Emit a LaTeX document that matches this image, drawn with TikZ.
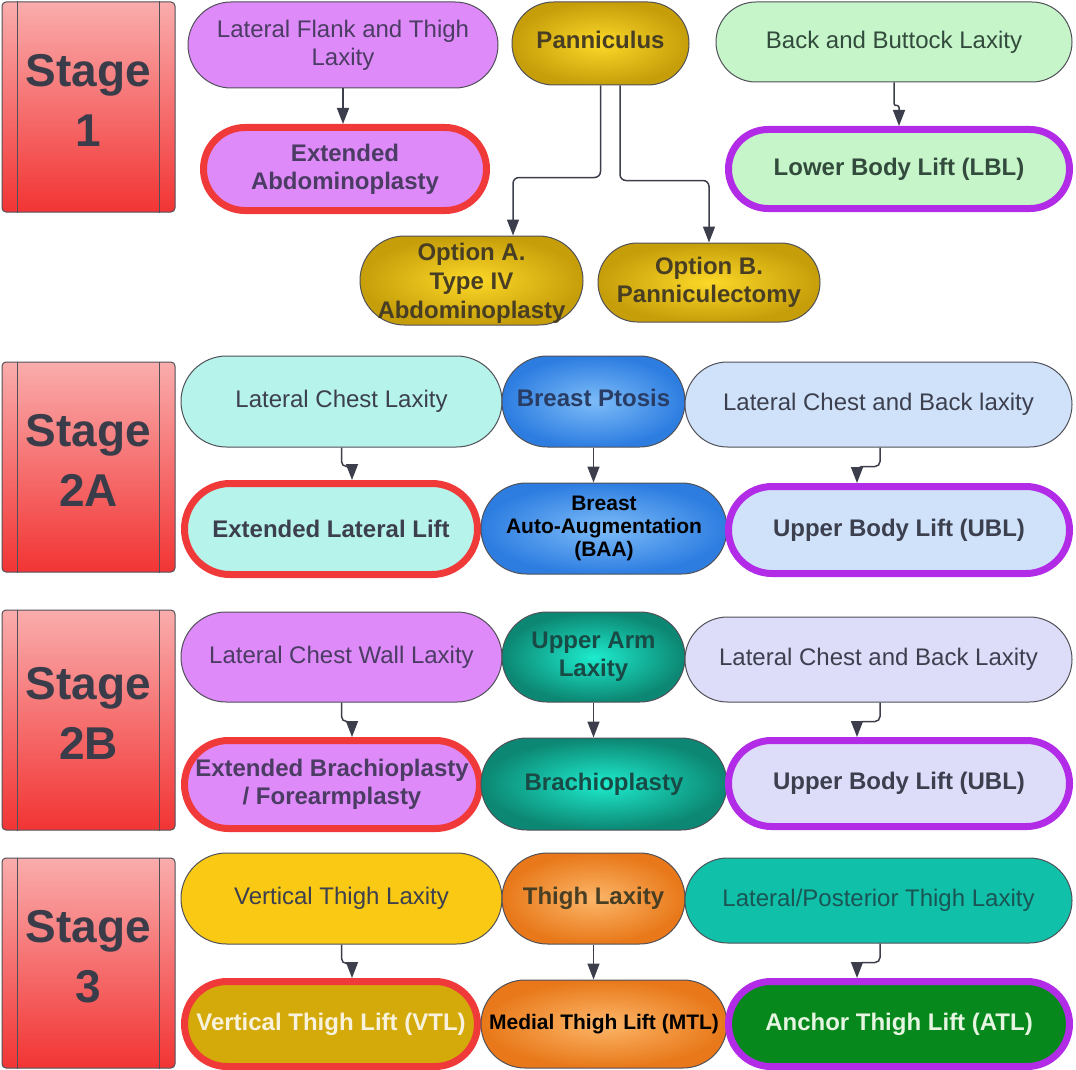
\documentclass[tikz,border=0pt]{standalone}
\usepackage{fontspec}
\setmainfont{Liberation Sans}
\usetikzlibrary{arrows.meta,shadings}
\definecolor{txt}{RGB}{60,63,78}
\definecolor{edge}{RGB}{80,80,88}
\definecolor{arrowc}{RGB}{60,63,75}
\definecolor{redb}{RGB}{240,58,58}
\definecolor{purb}{RGB}{178,44,232}
\definecolor{violet1}{RGB}{222,138,248}
\definecolor{goldin}{RGB}{252,216,40}
\definecolor{goldout}{RGB}{198,158,10}
\definecolor{mint}{RGB}{198,245,202}
\definecolor{cyanl}{RGB}{182,243,234}
\definecolor{bluein}{RGB}{125,188,248}
\definecolor{blueout}{RGB}{45,125,225}
\definecolor{bluel}{RGB}{207,226,250}
\definecolor{lav}{RGB}{221,221,249}
\definecolor{tealin}{RGB}{30,235,205}
\definecolor{tealout}{RGB}{12,135,115}
\definecolor{yel}{RGB}{249,201,20}
\definecolor{dgold}{RGB}{212,170,10}
\definecolor{orin}{RGB}{252,182,105}
\definecolor{orout}{RGB}{232,120,25}
\definecolor{teal2}{RGB}{16,192,168}
\definecolor{dgreen}{RGB}{6,136,28}
\definecolor{stagetop}{RGB}{250,172,172}
\definecolor{stagebot}{RGB}{242,52,52}
\definecolor{stagetxt}{RGB}{58,60,74}
\definecolor{purtxt}{RGB}{75,60,100}
\definecolor{goldtxt}{RGB}{72,62,35}
\definecolor{greentxt}{RGB}{50,75,60}
\definecolor{navytxt}{RGB}{40,60,100}
\definecolor{tealtxt}{RGB}{25,75,70}
\definecolor{teal2txt}{RGB}{25,85,85}
\definecolor{lighttxt}{RGB}{248,242,220}
\definecolor{lightgtxt}{RGB}{230,245,225}
\tikzset{
  pill/.style n args={2}{draw=edge, line width=1pt, align=center, inner sep=0pt,
    minimum width=#1pt, minimum height=#2pt, rounded corners=#2*0.5pt,
    text=txt, font=\fontsize{24}{28}\selectfont},
  boldt/.style={font=\fontsize{24}{28}\selectfont\bfseries},
  redring/.style={draw=redb, line width=7pt},
  purring/.style={draw=purb, line width=7pt},
  radial/.style n args={2}{shade, shading=radial, inner color=#1, outer color=#2},
  stagebox/.style={draw=edge, line width=1pt, rounded corners=4pt, top color=stagetop,
    bottom color=stagebot, minimum width=173pt, align=center, text=stagetxt,
    font=\fontsize{46}{60}\selectfont\bfseries, text depth=13pt},
  stageline/.style={draw=edge, line width=1pt},
  arr/.style={draw=arrowc, line width=1.5pt, -{Triangle[length=16pt,width=12pt]}},
}
\begin{document}
\begin{tikzpicture}[x=1pt,y=-1pt]
\useasboundingbox (0,0) rectangle (1076,1070);
% ---------- stage boxes ----------
\node[stagebox, minimum height=210pt] (s1) at (88.5,107) {Stage\\1};
\node[stagebox, minimum height=210pt] (s2a) at (88.5,467) {Stage\\2A};
\node[stagebox, minimum height=220pt] (s2b) at (88.5,720) {Stage\\2B};
\node[stagebox, minimum height=210pt] (s3) at (88.5,963) {Stage\\3};
\foreach \s in {s1,s2a,s2b,s3}{
  \draw[stageline] ([xshift=16pt]\s.north west) -- ([xshift=16pt]\s.south west);
  \draw[stageline] ([xshift=-16pt]\s.north east) -- ([xshift=-16pt]\s.south east);
}
% ---------- stage 1 ----------
\node[pill={310}{86}, fill=violet1, text=purtxt] (lf) at (343,45) {Lateral Flank and Thigh\\Laxity};
\node[pill={177}{83}, boldt, radial={goldin}{goldout}, text=goldtxt, text depth=8pt] (pan) at (600.5,43.5) {Panniculus};
\node[pill={356}{80}, fill=mint, text=greentxt] (bb) at (894,42) {Back and Buttock Laxity};
\node[pill={283}{83}, boldt, redring, fill=violet1, text=purtxt] (ea) at (345,169) {Extended\\Abdominoplasty};
\node[pill={341}{79}, boldt, purring, fill=mint, text=greentxt] (lbl) at (899,169) {Lower Body Lift (LBL)};
\node[pill={223}{89}, radial={goldin}{goldout}, text=goldtxt, font=\fontsize{24}{29}\selectfont\bfseries, text depth=0pt] (oa) at (471.5,280.5) {Option A.\\Type IV\\Abdominoplasty};
\node[pill={222}{79}, boldt, radial={goldin}{goldout}, text=goldtxt] (ob) at (709,282.5) {Option B.\\Panniculectomy};
\draw[arr] (lf.south) -- (lf.south |- ea.north);
\draw[arr, rounded corners=2pt] (bb.south) -- ++(0,23) -| ([xshift=5pt]bb.south |- lbl.north);
\draw[arr, rounded corners=6pt] (pan.south) -- ++(0,92) -| ([xshift=41.5pt]oa.north);
\draw[arr, rounded corners=6pt] ([xshift=19.5pt]pan.south) -- ++(0,95) -| (ob.north);
% ---------- stage 2A ----------
\node[pill={321}{91}, fill=cyanl] (lcl) at (341.5,401.5) {Lateral Chest Laxity};
\node[pill={183}{91}, boldt, radial={bluein}{blueout}, text=navytxt, text depth=8pt] (bp) at (593.5,401.5) {Breast Ptosis};
\node[pill={387}{85}, fill=bluel] (lcbl) at (878.5,404.5) {Lateral Chest and Back laxity};
\node[pill={293}{91}, boldt, redring, fill=cyanl] (ell) at (331,529) {Extended Lateral Lift};
\node[pill={246}{91}, radial={bluein}{blueout}, text=black, font=\fontsize{21}{23}\selectfont\bfseries] (baa) at (604,528.5) {Breast\\Auto-Augmentation\\(BAA)};
\node[pill={341}{87}, boldt, purring, fill=bluel] (ubl) at (899,530) {Upper Body Lift (UBL)};
\draw[arr, rounded corners=5pt] (lcl.south) -- ++(0,19) -| ([xshift=21pt]ell.north);
\draw[arr] (bp.south) -- (bp.south |- baa.north);
\draw[arr, rounded corners=5pt] ([xshift=1.5pt]lcbl.south) -- ++(0,19) -| ([xshift=-42pt]ubl.north);
% ---------- stage 2B ----------
\node[pill={321}{90}, fill=violet1, text=purtxt] (lcwl) at (341.5,657) {Lateral Chest Wall Laxity};
\node[pill={183}{90}, boldt, radial={tealin}{tealout}, text=tealtxt] (ual) at (593.5,657) {Upper Arm\\Laxity};
\node[pill={387}{85}, fill=lav] (lcbl2) at (878.5,659.5) {Lateral Chest and Back Laxity};
\node[pill={295}{88}, boldt, redring, fill=violet1, text=purtxt] (ebf) at (332,784.5) {Extended Brachioplasty\\/ Forearmplasty};
\node[pill={246}{92}, boldt, radial={tealin}{tealout}, text=tealtxt] (brach) at (604,784) {Brachioplasty};
\node[pill={341}{86}, boldt, purring, fill=lav] (ubl2) at (899,783.5) {Upper Body Lift (UBL)};
\draw[arr, rounded corners=5pt] (lcwl.south) -- ++(0,19) -| ([xshift=20pt]ebf.north);
\draw[arr] (ual.south) -- (ual.south |- brach.north);
\draw[arr, rounded corners=5pt] ([xshift=1.5pt]lcbl2.south) -- ++(0,19) -| ([xshift=-42pt]ubl2.north);
% ---------- stage 3 ----------
\node[pill={321}{91}, fill=yel] (vtlx) at (341.5,898.5) {Vertical Thigh Laxity};
\node[pill={183}{91}, boldt, radial={orin}{orout}, text=goldtxt] (tl) at (593.5,898.5) {Thigh Laxity};
\node[pill={387}{85}, fill=teal2, text=teal2txt] (lptl) at (878.5,900.5) {Lateral/Posterior Thigh Laxity};
\node[pill={293}{85}, boldt, redring, fill=dgold, text=lighttxt] (vtl) at (331,1024) {Vertical Thigh Lift (VTL)};
\node[pill={246}{88}, radial={orin}{orout}, text=black, font=\fontsize{21}{25}\selectfont\bfseries] (mtl) at (604,1024) {Medial Thigh Lift (MTL)};
\node[pill={341}{85}, boldt, purring, fill=dgreen, text=lightgtxt] (atl) at (899,1024) {Anchor Thigh Lift (ATL)};
\draw[arr, rounded corners=5pt] (vtlx.south) -- ++(0,19) -| ([xshift=21pt]vtl.north);
\draw[arr] (tl.south) -- (tl.south |- mtl.north);
\draw[arr, rounded corners=5pt] ([xshift=1.5pt]lptl.south) -- ++(0,19) -| ([xshift=-42pt]atl.north);
\end{tikzpicture}
\end{document}
